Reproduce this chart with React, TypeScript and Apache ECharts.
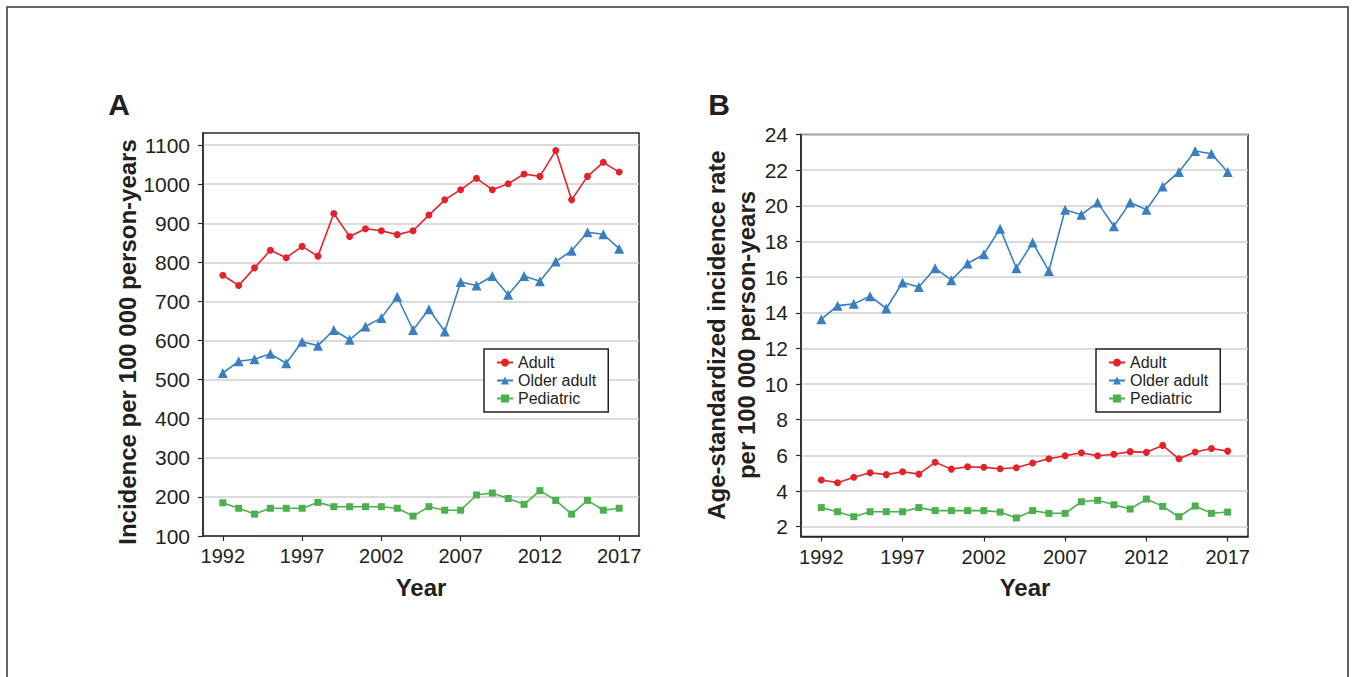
import React, { useEffect, useRef } from "react";
import * as echarts from "echarts";

const years = [1992, 1993, 1994, 1995, 1996, 1997, 1998, 1999, 2000, 2001, 2002, 2003, 2004, 2005, 2006, 2007, 2008, 2009, 2010, 2011, 2012, 2013, 2014, 2015, 2016, 2017];
const xTickYears = [1992, 1997, 2002, 2007, 2012, 2017];
const yTicksA = [100, 200, 300, 400, 500, 600, 700, 800, 900, 1000, 1100];
const yTicksB = [2, 4, 6, 8, 10, 12, 14, 16, 18, 20, 22, 24];
const seriesNames = ["Adult", "Older adult", "Pediatric"];

// Panel A: incidence per 100 000 person-years
const adultA = [767, 741, 786, 831, 812, 841, 816, 925, 866, 886, 881, 871, 881, 921, 960, 986, 1015, 986, 1001, 1026, 1020, 1086, 960, 1020, 1056, 1031];
const olderA = [517, 547, 552, 566, 542, 597, 587, 627, 602, 636, 658, 712, 627, 680, 623, 750, 741, 765, 717, 765, 752, 802, 830, 877, 872, 835];
const pedA = [185, 171, 156, 171, 171, 171, 186, 175, 175, 175, 175, 171, 151, 175, 166, 166, 205, 210, 196, 181, 216, 191, 156, 191, 166, 171];

// Panel B: age-standardized incidence rate
const adultB = [4.62, 4.47, 4.77, 5.03, 4.92, 5.08, 4.95, 5.61, 5.23, 5.36, 5.33, 5.25, 5.31, 5.57, 5.81, 5.98, 6.15, 5.98, 6.06, 6.21, 6.17, 6.56, 5.81, 6.19, 6.39, 6.24];
const olderB = [13.63, 14.4, 14.5, 14.93, 14.24, 15.7, 15.45, 16.5, 15.83, 16.76, 17.28, 18.72, 16.5, 17.94, 16.35, 19.78, 19.5, 20.18, 18.85, 20.18, 19.78, 21.09, 21.9, 23.07, 22.92, 21.9];
const pedB = [3.07, 2.84, 2.56, 2.84, 2.84, 2.84, 3.07, 2.9, 2.9, 2.9, 2.9, 2.82, 2.49, 2.9, 2.75, 2.75, 3.4, 3.48, 3.23, 2.99, 3.55, 3.14, 2.56, 3.16, 2.75, 2.82];

const FONT = "'Liberation Sans', Arial, Helvetica, sans-serif";
const RED = "#e3222b";
const BLUE = "#3a80c0";
const GREEN = "#4cb04f";
const AXIS = "#2a2a2a";
const TEXT = "#231f20";

function zip(vals: number[]) {
  return years.map((y, i) => [y, vals[i]]);
}

function makeSeries(name: string, vals: number[], idx: number, color: string, symbol: string, size: number) {
  return {
    type: "line",
    name,
    xAxisIndex: idx,
    yAxisIndex: idx,
    data: zip(vals),
    symbol,
    symbolSize: size,
    showAllSymbol: true,
    lineStyle: { color, width: 1.6 },
    itemStyle: { color },
    emphasis: { disabled: true },
  };
}

const plain = (v: number) => String(v);

function xAxisOpt(gridIndex: number) {
  return {
    type: "value",
    gridIndex,
    min: 1990.75,
    max: 2018.25,
    axisLine: { show: true, lineStyle: { color: AXIS, width: 1.5 } },
    axisTick: { show: true, length: 5, customValues: xTickYears, lineStyle: { color: AXIS, width: 1.2 } },
    axisLabel: { customValues: xTickYears, formatter: plain, color: TEXT, fontSize: 20, fontFamily: FONT, margin: 10 },
    splitLine: { show: false },
  };
}

function yAxisOpt(gridIndex: number, min: number, max: number, ticks: number[]) {
  return {
    type: "value",
    gridIndex,
    min,
    max,
    axisLine: { show: true, lineStyle: { color: AXIS, width: 1.5 } },
    axisTick: { show: true, length: 5, customValues: ticks, lineStyle: { color: AXIS, width: 1.2 } },
    axisLabel: { customValues: ticks, formatter: plain, color: TEXT, fontSize: 21, fontFamily: FONT, margin: 13 },
    splitLine: { show: true, lineStyle: { color: "#cfcfcf", width: 1.5 } },
  };
}

function legendOpt(left: number, top: number) {
  return {
    data: seriesNames,
    orient: "vertical",
    left,
    top,
    padding: [5, 12, 5, 12],
    itemGap: 1,
    itemWidth: 16,
    itemHeight: 10,
    borderColor: "#222",
    borderWidth: 1.5,
    backgroundColor: "#fff",
    textStyle: { fontSize: 16, fontFamily: FONT, color: TEXT, lineHeight: 17 },
  };
}

export default function App() {
  const ref = useRef<HTMLDivElement>(null);

  useEffect(() => {
    if (!ref.current) return;
    const chart = echarts.init(ref.current, null, { renderer: "svg" });
    const titleStyle = { fontSize: 24, fontWeight: "bold", fontFamily: FONT, fill: TEXT };
    chart.setOption({
      animation: false,
      backgroundColor: "#fff",
      grid: [
        { left: 203, top: 133, width: 436, height: 403, show: true, borderColor: AXIS, borderWidth: 1.5, containLabel: false },
        { left: 801, top: 134.5, width: 447, height: 402, show: true, borderColor: AXIS, borderWidth: 1.5, containLabel: false },
      ],
      xAxis: [xAxisOpt(0), xAxisOpt(1)],
      yAxis: [yAxisOpt(0, 100, 1131, yTicksA), yAxisOpt(1, 1.45, 24, yTicksB)],
      legend: [legendOpt(484, 349), legendOpt(1096, 349)],
      series: [
        makeSeries("Adult", adultA, 0, RED, "circle", 7),
        makeSeries("Older adult", olderA, 0, BLUE, "triangle", 10),
        makeSeries("Pediatric", pedA, 0, GREEN, "rect", 7),
        makeSeries("Adult", adultB, 1, RED, "circle", 7),
        makeSeries("Older adult", olderB, 1, BLUE, "triangle", 10),
        makeSeries("Pediatric", pedB, 1, GREEN, "rect", 7),
      ],
      graphic: [
        { type: "rect", shape: { x: 7, y: 7, width: 1341, height: 720 }, style: { fill: "none", stroke: "#333", lineWidth: 1.5 }, silent: true },
        { type: "text", x: 119, y: 104, style: { text: "A", fontSize: 30, fontWeight: "bold", fontFamily: FONT, fill: TEXT, align: "center", verticalAlign: "middle" } },
        { type: "text", x: 719, y: 104, style: { text: "B", fontSize: 30, fontWeight: "bold", fontFamily: FONT, fill: TEXT, align: "center", verticalAlign: "middle" } },
        { type: "text", x: 127, y: 342, rotation: Math.PI / 2, style: { text: "Incidence per 100 000 person-years", ...titleStyle, align: "center", verticalAlign: "middle" } },
        { type: "text", x: 716, y: 335, rotation: Math.PI / 2, style: { text: "Age-standardized incidence rate", ...titleStyle, align: "center", verticalAlign: "middle" } },
        { type: "text", x: 746, y: 335, rotation: Math.PI / 2, style: { text: "per 100 000 person-years", ...titleStyle, align: "center", verticalAlign: "middle" } },
        { type: "text", x: 421, y: 587, style: { text: "Year", ...titleStyle, align: "center", verticalAlign: "middle" } },
        { type: "text", x: 1025, y: 587, style: { text: "Year", ...titleStyle, align: "center", verticalAlign: "middle" } },
      ],
    });
    return () => chart.dispose();
  }, []);

  return (
    <div style={{ position: "absolute", left: 0, top: 0, width: 1353, height: 677, background: "#fff" }}>
      <div ref={ref} style={{ width: 1353, height: 677 }} />
    </div>
  );
}
